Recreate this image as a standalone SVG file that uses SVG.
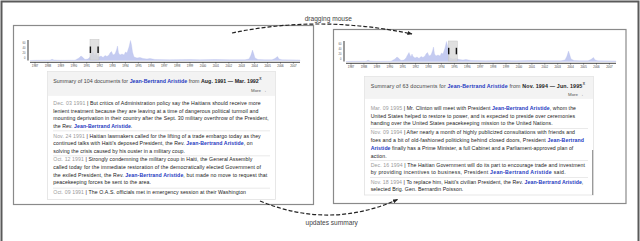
<svg xmlns="http://www.w3.org/2000/svg" width="640" height="241" viewBox="0 0 640 241">
<style>
text{font-family:"Liberation Sans","DejaVu Sans",Arial,sans-serif}
.panel{fill:#fff;stroke:#8a8a8a;stroke-width:1.2}
.box{fill:#fff;stroke:#e2e2e2;stroke-width:0.8}
.hdr{fill:#f3f3f3}
.ht{font-size:5.3px;fill:#444}
.b{font-weight:bold;fill:#222}
.nm{font-weight:bold;fill:#2438c0}
.tx{font-size:5.2px;fill:#222}
.dt{fill:#9a9a9a}
.more{font-size:4.4px;fill:#555}
.sep{stroke:#e4e4e4;stroke-width:0.8}
.yr{font-size:2.9px;fill:#444;text-anchor:middle}
.yl{font-size:2.6px;fill:#555;text-anchor:end}
.axis{stroke:#444;stroke-width:1}
.tick{stroke:#444;stroke-width:0.6}
.yax{stroke:#666;stroke-width:1.3}
.hist{fill:#c4cbf1;stroke:#b3bcec;stroke-width:0.3}
.brush{fill:#d8d8d8;fill-opacity:0.8;stroke:#c4c4c4;stroke-width:0.5}
.hdl{fill:#111}
.conn{fill:none;stroke:#222;stroke-width:1.2;stroke-dasharray:4 2}
.lbl{font-size:6.6px;fill:#444;text-anchor:middle}
</style>
<defs>
<marker id="ah" viewBox="0 0 10 10" refX="9" refY="5" markerWidth="5" markerHeight="5" orient="auto" markerUnits="userSpaceOnUse">
<path d="M0,1 L10,5 L0,9 Z" fill="#222"/>
</marker>
<path id="hist" class="hist" d="M30,60.5 L35,60.3 L50,60.2 L52,59.3 L54,60 L60,60.3 L75,60.2 L79,58 L81,56 L83,57.5 L85,59.5 L88,59 L90,57 L91,55 L93,51.5 L94,54 L95,56 L96,53 L97,55.5 L99,57 L101,56 L103,57.5 L105,55.5 L107,56.5 L109,55 L110,53 L111.5,51.5 L113,55 L115,54 L116.5,50 L117.5,46 L118.5,53 L120,55 L122,54 L124,55 L125.5,52 L127,53 L128,50 L129,47 L130.5,40.5 L131.5,45 L132.5,52 L134,57 L137,58 L140,57.5 L143,58.5 L147,59 L150,58.5 L155,59.5 L170,59.8 L190,59.6 L200,59.8 L215,59.5 L230,59.8 L245,59.8 L249,59 L251,55 L252.5,50 L253.5,53 L255,58 L258,59.5 L265,59.8 L272,59.8 L275,58.5 L277.5,56.5 L279,59 L282,59.8 L300,60 L300,60.5 Z"/>
<path id="ticks" class="tick" d="M35,62 v1.6 M47.9,62 v1.6 M60.8,62 v1.6 M73.8,62 v1.6 M86.7,62 v1.6 M99.6,62 v1.6 M112.5,62 v1.6 M125.4,62 v1.6 M138.4,62 v1.6 M151.3,62 v1.6 M164.2,62 v1.6 M177.1,62 v1.6 M190,62 v1.6 M203,62 v1.6 M215.9,62 v1.6 M228.8,62 v1.6 M241.7,62 v1.6 M254.6,62 v1.6 M267.6,62 v1.6 M280.5,62 v1.6 M293.4,62 v1.6"/>
<clipPath id="clipL"><rect x="47.5" y="71.5" width="228" height="124"/></clipPath>
</defs>

<path d="M1.5,241 V1.5 H638.5 V241" fill="none" stroke="#5a5a5a" stroke-width="2"/>

<g id="panel-left">
<rect class="panel" x="13.5" y="25.5" width="300" height="179"/>
<line class="yax" x1="28" y1="40" x2="28" y2="60.5"/>
<text class="yl" x="25.5" y="44.3">60</text>
<text class="yl" x="25.5" y="49.3">40</text>
<text class="yl" x="25.5" y="54.3">20</text>
<text class="yl" x="25.5" y="59.3">0</text>
<use href="#hist"/>
<rect class="brush" x="90" y="39.5" width="9" height="20.5"/>
<rect class="hdl" x="89.7" y="46.5" width="1.4" height="6.5"/>
<rect class="hdl" x="97.4" y="46.5" width="1.4" height="6.5"/>
<line class="axis" x1="30" y1="62.3" x2="300" y2="62.3"/>
<use href="#ticks"/>
<text class="yr" x="35" y="67">1987</text><text class="yr" x="47.9" y="67">1988</text><text class="yr" x="60.8" y="67">1989</text><text class="yr" x="73.8" y="67">1990</text><text class="yr" x="86.7" y="67">1991</text><text class="yr" x="99.6" y="67">1992</text><text class="yr" x="112.5" y="67">1993</text><text class="yr" x="125.4" y="67">1994</text><text class="yr" x="138.4" y="67">1995</text><text class="yr" x="151.3" y="67">1996</text><text class="yr" x="164.2" y="67">1997</text><text class="yr" x="177.1" y="67">1998</text><text class="yr" x="190" y="67">1999</text><text class="yr" x="203" y="67">2000</text><text class="yr" x="215.9" y="67">2001</text><text class="yr" x="228.8" y="67">2002</text><text class="yr" x="241.7" y="67">2003</text><text class="yr" x="254.6" y="67">2004</text><text class="yr" x="267.6" y="67">2005</text><text class="yr" x="280.5" y="67">2006</text><text class="yr" x="293.4" y="67">2007</text>
<rect class="box" x="47.5" y="71.5" width="228" height="128"/>
<rect class="hdr" x="47.9" y="71.9" width="227.2" height="24"/>
<text class="ht" x="53.3" y="82.8" textLength="205.5">Summary of 104 documents for <tspan class="nm">Jean-Bertrand Aristide</tspan> from <tspan class="b">Aug. 1991 — Mar. 1992</tspan></text>
<text class="ht" x="259.3" y="80.3" style="font-size:3.4px;font-weight:bold">X</text>
<text class="more" x="251" y="91.6">More →</text>
<g clip-path="url(#clipL)">
<text class="tx" x="53.3" y="105" textLength="207.4"><tspan class="dt">Dec. 03 1991</tspan> | But critics of Administration policy say the Haitians should receive more</text>
<text class="tx" x="53.3" y="112.7" textLength="205">lenient treatment because they are leaving at a time of dangerous political turmoil and</text>
<text class="tx" x="53.3" y="120.4" textLength="215.4">mounting deprivation in their country after the Sept. 30 military overthrow of the President,</text>
<text class="tx" x="53.3" y="128.1" textLength="79">the Rev. <tspan class="nm">Jean-Bertrand Aristide</tspan>.</text>
<line class="sep" x1="53" y1="130.8" x2="270" y2="130.8"/>
<text class="tx" x="53.3" y="137.5" textLength="207.4"><tspan class="dt">Nov. 24 1991</tspan> | Haitian lawmakers called for the lifting of a trade embargo today as they</text>
<text class="tx" x="53.3" y="145.2" textLength="199.4">continued talks with Haiti's deposed President, the Rev. <tspan class="nm">Jean-Bertrand Aristide</tspan>, on</text>
<text class="tx" x="53.3" y="152.9" textLength="131.7">solving the crisis caused by his ouster in a military coup.</text>
<line class="sep" x1="53" y1="155.8" x2="270" y2="155.8"/>
<text class="tx" x="53.3" y="161.2" textLength="199"><tspan class="dt">Oct. 12 1991</tspan> | Strongly condemning the military coup in Haiti, the General Assembly</text>
<text class="tx" x="53.3" y="168.9" textLength="207.7">called today for the immediate restoration of the democratically elected Government of</text>
<text class="tx" x="53.3" y="176.6" textLength="214">the exiled President, the Rev. <tspan class="nm">Jean-Bertrand Aristide</tspan>, but made no move to request that</text>
<text class="tx" x="53.3" y="184.3" textLength="97.7">peacekeeping forces be sent to the area.</text>
<line class="sep" x1="53" y1="188.2" x2="270" y2="188.2"/>
<text class="tx" x="53.3" y="194.4" textLength="192.7"><tspan class="dt">Oct. 09 1991</tspan> | The O.A.S. officials met in emergency session at their Washington</text>
</g>
</g>

<g id="panel-right">
<rect class="panel" x="333.5" y="29.5" width="292.5" height="174"/>
<line class="yax" x1="344" y1="41" x2="344" y2="61.5"/>
<text class="yl" x="341.5" y="45.3">60</text>
<text class="yl" x="341.5" y="50.3">40</text>
<text class="yl" x="341.5" y="55.3">20</text>
<text class="yl" x="341.5" y="60.3">0</text>
<use href="#hist" transform="translate(316,1)"/>
<rect class="brush" x="448.3" y="41" width="9" height="20"/>
<rect class="hdl" x="448" y="47.8" width="1.4" height="6.5"/>
<rect class="hdl" x="455.7" y="47.8" width="1.4" height="6.5"/>
<line class="axis" x1="346" y1="63.3" x2="616" y2="63.3"/>
<use href="#ticks" transform="translate(316,1)"/>
<text class="yr" x="351" y="68">1987</text><text class="yr" x="363.9" y="68">1988</text><text class="yr" x="376.8" y="68">1989</text><text class="yr" x="389.8" y="68">1990</text><text class="yr" x="402.7" y="68">1991</text><text class="yr" x="415.6" y="68">1992</text><text class="yr" x="428.5" y="68">1993</text><text class="yr" x="441.4" y="68">1994</text><text class="yr" x="454.4" y="68">1995</text><text class="yr" x="467.3" y="68">1996</text><text class="yr" x="480.2" y="68">1997</text><text class="yr" x="493.1" y="68">1998</text><text class="yr" x="506" y="68">1999</text><text class="yr" x="519" y="68">2000</text><text class="yr" x="531.9" y="68">2001</text><text class="yr" x="544.8" y="68">2002</text><text class="yr" x="557.7" y="68">2003</text><text class="yr" x="570.6" y="68">2004</text><text class="yr" x="583.6" y="68">2005</text><text class="yr" x="596.5" y="68">2006</text><text class="yr" x="609.4" y="68">2007</text>
<rect class="box" x="364.5" y="76.5" width="229" height="118.5"/>
<rect class="hdr" x="364.9" y="76.9" width="228.2" height="22"/>
<text class="ht" x="370.7" y="87.6" textLength="211.5">Summary of 63 documents for <tspan class="nm">Jean-Bertrand Aristide</tspan> from <tspan class="b">Nov. 1994 — Jun. 1995</tspan></text>
<text class="ht" x="582.7" y="85.1" style="font-size:3.4px;font-weight:bold">X</text>
<text class="more" x="568" y="96">More →</text>
<line x1="592.6" y1="150" x2="592.6" y2="195" stroke="#9a9a9a" stroke-width="1.2"/>
<text class="tx" x="370.7" y="110" textLength="205.3"><tspan class="dt">Mar. 09 1995</tspan> | Mr. Clinton will meet with President <tspan class="nm">Jean-Bertrand Aristide</tspan>, whom the</text>
<text class="tx" x="370.7" y="117.7" textLength="204.3">United States helped to restore to power, and is expected to preside over ceremonies</text>
<text class="tx" x="370.7" y="125.4" textLength="182">handing over the United States peacekeeping mission to the United Nations.</text>
<line class="sep" x1="370" y1="128.5" x2="588" y2="128.5"/>
<text class="tx" x="370.7" y="134.4" textLength="204.3"><tspan class="dt">Nov. 09 1994</tspan> | After nearly a month of highly publicized consultations with friends and</text>
<text class="tx" x="370.7" y="142.1" textLength="213.3">foes and a bit of old-fashioned politicking behind closed doors, President <tspan class="nm">Jean-Bertrand</tspan></text>
<text class="tx" x="370.7" y="149.8" textLength="202.6"><tspan class="nm">Aristide</tspan> finally has a Prime Minister, a full Cabinet and a Parliament-approved plan of</text>
<text class="tx" x="370.7" y="157.5" textLength="16">action.</text>
<line class="sep" x1="370" y1="160.5" x2="588" y2="160.5"/>
<text class="tx" x="370.7" y="166.7" textLength="214.3"><tspan class="dt">Dec. 16 1994</tspan> | The Haitian Government will do its part to encourage trade and investment</text>
<text class="tx" x="370.7" y="174.4" textLength="195">by providing incentives to business, President <tspan class="nm">Jean-Bertrand Aristide</tspan> said.</text>
<line class="sep" x1="370" y1="177.5" x2="588" y2="177.5"/>
<text class="tx" x="370.7" y="183.7" textLength="212.6"><tspan class="dt">Nov. 18 1994</tspan> | To replace him, Haiti's civilian President, the Rev. <tspan class="nm">Jean-Bertrand Aristide</tspan>,</text>
<text class="tx" x="370.7" y="191.3" textLength="92.6">selected Brig. Gen. Bernardin Poisson.</text>
</g>

<g id="connectors">
<path class="conn" d="M232,33 Q320,14.5 412,34" marker-end="url(#ah)"/>
<path class="conn" d="M260,201 Q330,229.8 397.5,199.5" marker-end="url(#ah)"/>
<text class="lbl" x="328.3" y="21.2">dragging mouse</text>
<text class="lbl" x="331.7" y="224.5">updates summary</text>
</g>
</svg>
